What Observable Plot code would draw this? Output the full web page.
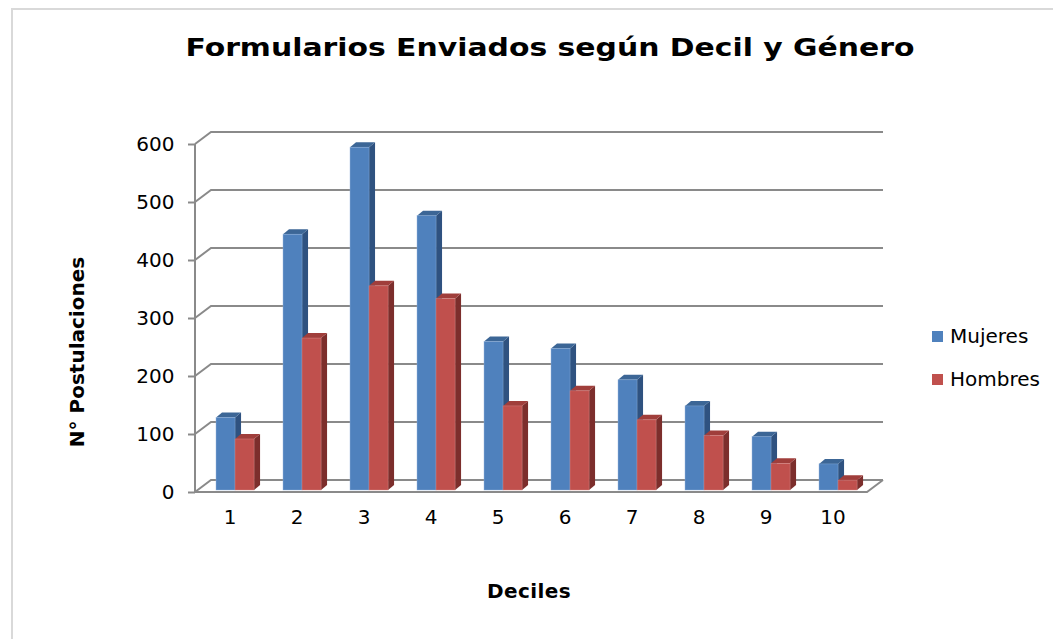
<!DOCTYPE html>
<html>
<head>
<meta charset="utf-8">
<script src="https://cdn.jsdelivr.net/npm/d3@7"></script>
<script src="https://cdn.jsdelivr.net/npm/@observablehq/plot@0.6"></script>
<style>
  html, body { margin: 0; padding: 0; background: #fff; }
  #wrap { position: relative; width: 1053px; height: 639px; overflow: hidden; font-family: "DejaVu Sans", Verdana, sans-serif; }
  #border { position: absolute; left: 11px; top: 8px; width: 1100px; height: 700px; border-left: 2px solid #d9d9d9; border-top: 2px solid #d9d9d9; }
  #chart { position: absolute; left: 0; top: 0; }
  .title { position: absolute; left: 550px; top: 47px; transform: translate(-50%, -50%) scaleX(1.17); font-weight: bold; font-size: 25.5px; white-space: nowrap; color: #000; }
  .ytitle { position: absolute; left: 77px; top: 352px; transform: translate(-50%, -50%) rotate(-90deg); font-weight: bold; font-size: 20px; white-space: nowrap; }
  .xtitle { position: absolute; left: 529px; top: 591px; transform: translate(-50%, -50%); font-weight: bold; font-size: 20px; letter-spacing: 0.4px; white-space: nowrap; }
  .legend { position: absolute; left: 932px; font-size: 20px; display: flex; align-items: center; white-space: nowrap; transform: translateY(-50%); }
  .legend span.sw { display: inline-block; width: 11px; height: 11px; margin-right: 7px; }
</style>
</head>
<body>
<div id="wrap">
  <div id="border"></div>
  <div id="chart"></div>
  <div class="title">Formularios Enviados según Decil y Género</div>
  <div class="ytitle">N° Postulaciones</div>
  <div class="xtitle">Deciles</div>
  <div id="legend"></div>
</div>
<script>
const deciles = ["1", "2", "3", "4", "5", "6", "7", "8", "9", "10"];
const mujeres = [125, 441, 591, 473, 256, 244, 190, 145, 92, 45];
const hombres = [88, 262, 352, 330, 145, 171, 121, 94, 46, 17];
const series = ["Mujeres", "Hombres"];
const yTicks = [0, 100, 200, 300, 400, 500, 600];

const colors = {
  Mujeres: {front: "#4F81BD", top: "#3C6696", side: "#2F5280", edge: "#8FB0DA"},
  Hombres: {front: "#C0504D", top: "#A03E3B", side: "#7C2E2C", edge: "#D88A88"}
};

const data = deciles.flatMap((d, i) => [
  {decil: d, genero: series[0], value: mujeres[i]},
  {decil: d, genero: series[1], value: hombres[i]}
]);

const DX = 16, DY = -12;   // back wall depth
const BX = 6, BY = -5;     // bar depth

function wall(index, scales, values, dims) {
  const {width, height, marginLeft: ml, marginRight: mr, marginBottom: mb} = dims;
  const x0 = ml, x1 = width - mr, yb = height - mb;
  const g = d3.create("svg:g").attr("fill", "none").attr("stroke", "#8a8a8a").attr("stroke-width", 2);
  for (const i of index) {
    const y = values.y[i];
    g.append("path").attr("d", `M${x0},${y}L${x0 + DX},${y + DY}L${x1 + DX},${y + DY}`);
  }
  const ytop = d3.min(index, i => values.y[i]);
  g.append("path").attr("d", `M${x0},${ytop}L${x0},${yb}L${x1},${yb}L${x1 + DX},${yb + DY}`);
  return g.node();
}

function bars3d(index, scales, values, dims) {
  const step = (dims.width - dims.marginLeft - dims.marginRight) / deciles.length;
  const w = step * 0.283;
  const g = d3.create("svg:g");
  for (const i of index) {
    const d = data[i];
    const k = series.indexOf(d.genero);
    const c = colors[d.genero];
    const xl = values.x[i] + step * 0.298 + k * w;
    const xr = xl + w;
    const yb = values.y1[i] - 2;
    const yt = values.y2[i] - 2;
    g.append("path").attr("fill", c.side)
      .attr("d", `M${xr},${yt}L${xr + BX},${yt + BY}L${xr + BX},${yb + BY}L${xr},${yb}Z`);
    g.append("path").attr("fill", c.top)
      .attr("d", `M${xl},${yt}L${xl + BX},${yt + BY}L${xr + BX},${yt + BY}L${xr},${yt}Z`);
    g.append("rect").attr("x", xl).attr("y", yt).attr("width", w).attr("height", yb - yt)
      .attr("fill", c.front).attr("stroke", c.edge).attr("stroke-width", 0.6).attr("stroke-opacity", 0.7);
  }
  return g.node();
}

const chart = Plot.plot({
  width: 1053,
  height: 639,
  marginLeft: 195,
  marginRight: 186,
  marginTop: 144,
  marginBottom: 147,
  style: {fontFamily: "DejaVu Sans, Verdana, sans-serif", fontSize: "20px", color: "#000", background: "transparent", overflow: "visible"},
  x: {domain: deciles, padding: 0},
  y: {domain: [0, 600]},
  marks: [
    Plot.ruleY(yTicks, {y: d => d, render: wall}),
    Plot.barY(data, {x: "decil", y1: () => 0, y2: "value", render: bars3d}),
    Plot.axisY(yTicks, {tickSize: 7, tickPadding: 14, stroke: "#8a8a8a", strokeWidth: 2, fill: "#000", label: null, fontSize: 20}),
    Plot.axisX({tickSize: 0, tickPadding: 17, label: null, fill: "#000", fontSize: 20})
  ]
});
document.getElementById("chart").appendChild(chart);

const legend = document.getElementById("legend");
series.forEach((s, i) => {
  const div = document.createElement("div");
  div.className = "legend";
  div.style.top = (336 + i * 43) + "px";
  div.innerHTML = `<span class="sw" style="background:${colors[s].front}"></span>${s}`;
  legend.appendChild(div);
});
</script>
</body>
</html>
